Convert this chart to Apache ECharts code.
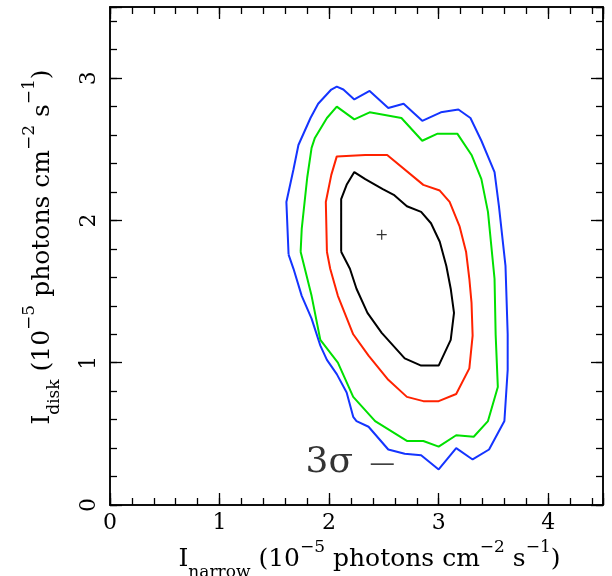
<!DOCTYPE html>
<html>
<head>
<meta charset="utf-8">
<script src="https://cdn.jsdelivr.net/npm/echarts@6/dist/echarts.min.js"></script>
<style>html,body{margin:0;padding:0;background:#fff}#c{width:612px;height:576px}</style>
</head>
<body>
<div id="c"></div>
<script>
// ---- data (units of 1e-5 photons cm^-2 s^-1) ----
const blueX = [1.63,1.61,1.675,1.72,1.83,1.90,2.02,2.07,2.13,2.23,2.37,2.54,2.68,2.85,3.02,3.18,3.29,3.39,3.51,3.55,3.61,3.63,3.63,3.60,3.46,3.31,3.16,3.00,2.84,2.69,2.54,2.36,2.25,2.22,2.16,2.07,1.98,1.92,1.84,1.75,1.675,1.63];
const blueY = [1.76,2.13,2.36,2.53,2.72,2.82,2.92,2.94,2.92,2.85,2.91,2.79,2.82,2.70,2.76,2.78,2.72,2.56,2.34,2.10,1.68,1.20,0.95,0.59,0.39,0.32,0.40,0.25,0.35,0.36,0.39,0.55,0.59,0.62,0.79,0.92,1.02,1.12,1.31,1.47,1.66,1.76];
const greenX = [1.74,1.75,1.80,1.84,1.87,1.98,2.07,2.23,2.37,2.66,2.85,2.99,3.17,3.30,3.39,3.45,3.51,3.52,3.54,3.45,3.32,3.16,3.00,2.86,2.71,2.42,2.22,2.08,1.92,1.84,1.74];
const greenY = [1.78,1.94,2.30,2.51,2.58,2.72,2.80,2.71,2.76,2.72,2.56,2.61,2.61,2.46,2.29,2.06,1.59,1.20,0.83,0.59,0.48,0.49,0.41,0.45,0.45,0.59,0.76,1.00,1.16,1.47,1.78];
const redX = [1.98,1.97,2.02,2.07,2.33,2.53,2.86,3.01,3.10,3.19,3.25,3.28,3.30,3.31,3.28,3.16,3.00,2.86,2.71,2.54,2.36,2.22,2.08,2.01,1.98];
const redY = [1.78,2.13,2.32,2.45,2.46,2.46,2.25,2.21,2.13,1.96,1.78,1.59,1.42,1.19,0.96,0.78,0.73,0.73,0.76,0.88,1.05,1.20,1.47,1.66,1.78];
const blackX = [2.11,2.11,2.16,2.23,2.33,2.49,2.59,2.71,2.84,2.93,3.01,3.07,3.11,3.14,3.11,3.00,2.84,2.69,2.48,2.35,2.25,2.19,2.11];
const blackY = [1.78,2.15,2.25,2.34,2.29,2.22,2.18,2.10,2.06,1.98,1.85,1.68,1.52,1.35,1.16,0.98,0.98,1.03,1.21,1.35,1.52,1.66,1.78];
const bestFit = [2.48, 1.90];
const sigmaLabel = '3σ';
const sigmaLabelPos = [1.78, 0.30];
const sigmaDashX = [2.38, 2.59];
const sigmaDashY = [0.287, 0.287];
const xRange = [0, 4.5];
const yRange = [0, 3.5];

const pairs = (xs, ys) => xs.map((x, i) => [x, ys[i]]);
const FONT = 'DejaVu Serif';
const AX = '#000';

function mkAxis(opts) {
  const { major, pos, isX, labels } = opts;
  const range = isX ? xRange : yRange;
  return {
    type: 'value', position: pos, min: range[0], max: range[1],
    interval: major ? 1 : 0.2,
    splitLine: { show: false },
    axisLine: { show: true, onZero: false, lineStyle: { color: AX, width: 1.5 } },
    axisTick: { show: true, inside: true, length: major ? 12 : 7, lineStyle: { color: AX, width: 1.3 } },
    axisLabel: labels ? {
      show: true, fontFamily: FONT, fontSize: 22, color: '#000',
      margin: isX ? 7 : 10, rotate: isX ? 0 : 90,
      formatter: v => (Math.abs(v - Math.round(v)) < 1e-6 ? String(Math.round(v)) : '')
    } : { show: false }
  };
}

const richStyle = {
  m: { fontFamily: FONT, fontSize: 25, color: '#000', lineHeight: 42 },
  sub: { fontFamily: FONT, fontSize: 17, color: '#000', verticalAlign: 'bottom' },
  sup: { fontFamily: FONT, fontSize: 17, color: '#000', verticalAlign: 'top' }
};

const xAxes = [
  Object.assign(mkAxis({ major: true, pos: 'bottom', isX: true, labels: true }), {
    name: '{m|I}{sub|narrow}{m| (10}{sup|−5}{m| photons cm}{sup|−2}{m| s}{sup|−1}{m|)}',
    nameLocation: 'middle', nameGap: 29,
    nameTextStyle: { rich: richStyle, padding: [0, 0, 0, 26] }
  }),
  mkAxis({ major: false, pos: 'bottom', isX: true }),
  mkAxis({ major: true, pos: 'top', isX: true }),
  mkAxis({ major: false, pos: 'top', isX: true })
];
const yAxes = [
  Object.assign(mkAxis({ major: true, pos: 'left', isX: false, labels: true }), {
    name: '{m|I}{sub|disk}{m| (10}{sup|−5}{m| photons cm}{sup|−2}{m| s}{sup|−1}{m|)}',
    nameLocation: 'middle', nameGap: 47, nameRotate: 90,
    nameTextStyle: { rich: richStyle, padding: [0, 0, 0, 18] }
  }),
  mkAxis({ major: false, pos: 'left', isX: false }),
  mkAxis({ major: true, pos: 'right', isX: false }),
  mkAxis({ major: false, pos: 'right', isX: false })
];

function contour(xs, ys, color) {
  return {
    type: 'line', data: pairs(xs, ys), showSymbol: false, symbol: 'none',
    smooth: false, silent: true, animation: false,
    lineStyle: { color: color, width: 2 }
  };
}

const chart = echarts.init(document.getElementById('c'), null, { renderer: 'canvas' });
chart.setOption({
  backgroundColor: '#fff',
  animation: false,
  grid: { left: 110, right: 9, top: 7, bottom: 71, containLabel: false, outerBoundsMode: 'none' },
  xAxis: xAxes,
  yAxis: yAxes,
  series: [
    contour(blueX, blueY, '#1434ff'),
    contour(greenX, greenY, '#00e000'),
    contour(redX, redY, '#ff2200'),
    contour(blackX, blackY, '#000000'),
    {
      type: 'scatter', data: [bestFit], symbolSize: 10,
      symbol: 'path://M4.4,0h1.2v4.4h4.4v1.2h-4.4v4.4h-1.2v-4.4h-4.4v-1.2h4.4z',
      itemStyle: { color: '#000' }, silent: true
    },
    {
      type: 'scatter', data: [sigmaLabelPos], symbolSize: 1, itemStyle: { color: 'rgba(0,0,0,0)' },
      label: { show: true, position: 'right', distance: 0, formatter: sigmaLabel,
        fontFamily: FONT, fontSize: 36, color: '#000' }, silent: true
    },
    {
      type: 'line', data: pairs(sigmaDashX, sigmaDashY), showSymbol: false, symbol: 'none',
      lineStyle: { color: '#000', width: 1.3 }, silent: true
    }
  ]
});
</script>
</body>
</html>
